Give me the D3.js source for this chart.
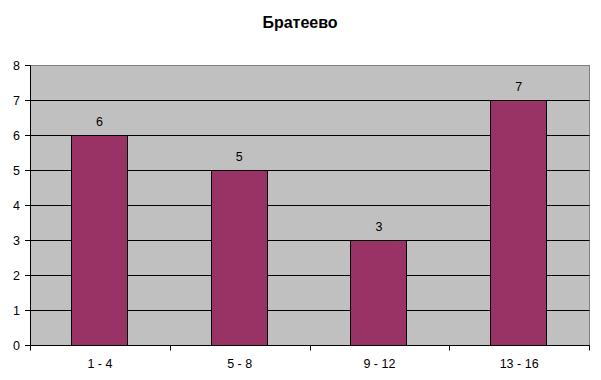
<!DOCTYPE html>
<html><head><meta charset="utf-8">
<script src="https://cdn.jsdelivr.net/npm/d3@7"></script>
<style>body{margin:0;background:#fff}svg{display:block}</style>
</head><body>
<svg id="c" width="601" height="380"></svg>
<script>
const title = "Братеево";
const categories = ["1 - 4", "5 - 8", "9 - 12", "13 - 16"];
const values = [6, 5, 3, 7];
const yTicks = [0, 1, 2, 3, 4, 5, 6, 7, 8];

const svg = d3.select("#c");
const m = {l: 30, r: 589, t: 65, b: 345};
const font = "Arial, 'Liberation Sans', sans-serif";
const fs = 12.5;

const x = d3.scaleBand().domain(categories).range([m.l, m.r]).paddingInner(0.6).paddingOuter(0.3);
const xb = d3.scaleBand().domain(categories).range([m.l, m.r]);
const y = d3.scaleLinear().domain([0, 8]).range([m.b, m.t]);

svg.append("rect").attr("x", m.l + 0.5).attr("y", m.t + 0.5).attr("width", m.r - m.l).attr("height", m.b - m.t)
  .attr("fill", "#c0c0c0").attr("stroke", "#808080").attr("stroke-width", 1);

svg.append("g").selectAll("line").data(yTicks.filter(d => d > 0 && d < 8)).join("line")
  .attr("x1", m.l).attr("x2", m.r + 0.5).attr("y1", d => Math.round(y(d)) + 0.5).attr("y2", d => Math.round(y(d)) + 0.5)
  .attr("stroke", "#000");

svg.append("g").selectAll("rect").data(values).join("rect")
  .attr("x", (d, i) => Math.floor(x(categories[i]) - 0.5) + 0.5)
  .attr("width", Math.round(x.bandwidth()))
  .attr("y", d => Math.round(y(d)) + 0.5)
  .attr("height", d => Math.round(y(0)) - Math.round(y(d)))
  .attr("fill", "#993366").attr("stroke", "#000");

svg.append("g").selectAll("text").data(values).join("text")
  .attr("x", (d, i) => x(categories[i]) + x.bandwidth() / 2 - 0.5)
  .attr("y", d => y(d) - 9)
  .attr("text-anchor", "middle").attr("font-family", font).attr("font-size", fs).attr("fill", "#000")
  .text(d => d);

// y axis
const ya = svg.append("g").attr("transform", `translate(${m.l},0)`)
  .call(d3.axisLeft(y).tickValues(yTicks).tickSize(5).tickPadding(5).tickFormat(d3.format("d")));
ya.select(".domain").attr("stroke", "#000");
ya.selectAll(".tick line").attr("stroke", "#000");
ya.selectAll("text").attr("font-family", font).attr("font-size", fs).attr("fill", "#000");

// x axis
const xa = svg.append("g").attr("transform", `translate(0,${m.b})`)
  .call(d3.axisBottom(xb).tickSize(0).tickPadding(14));
xa.select(".domain").attr("stroke", "#000");
xa.selectAll("text").attr("font-family", font).attr("font-size", fs).attr("fill", "#000");
const bounds = categories.map(c => xb(c)).concat([m.r]);
svg.append("g").selectAll("line").data(bounds).join("line")
  .attr("x1", d => Math.round(d) + 0.5).attr("x2", d => Math.round(d) + 0.5)
  .attr("y1", m.b + 0.5).attr("y2", m.b + 5.5).attr("stroke", "#000");

svg.append("text").attr("x", 300).attr("y", 28).attr("text-anchor", "middle")
  .attr("font-family", font).attr("font-size", 16).attr("font-weight", "bold").text(title);
</script>
</body></html>
